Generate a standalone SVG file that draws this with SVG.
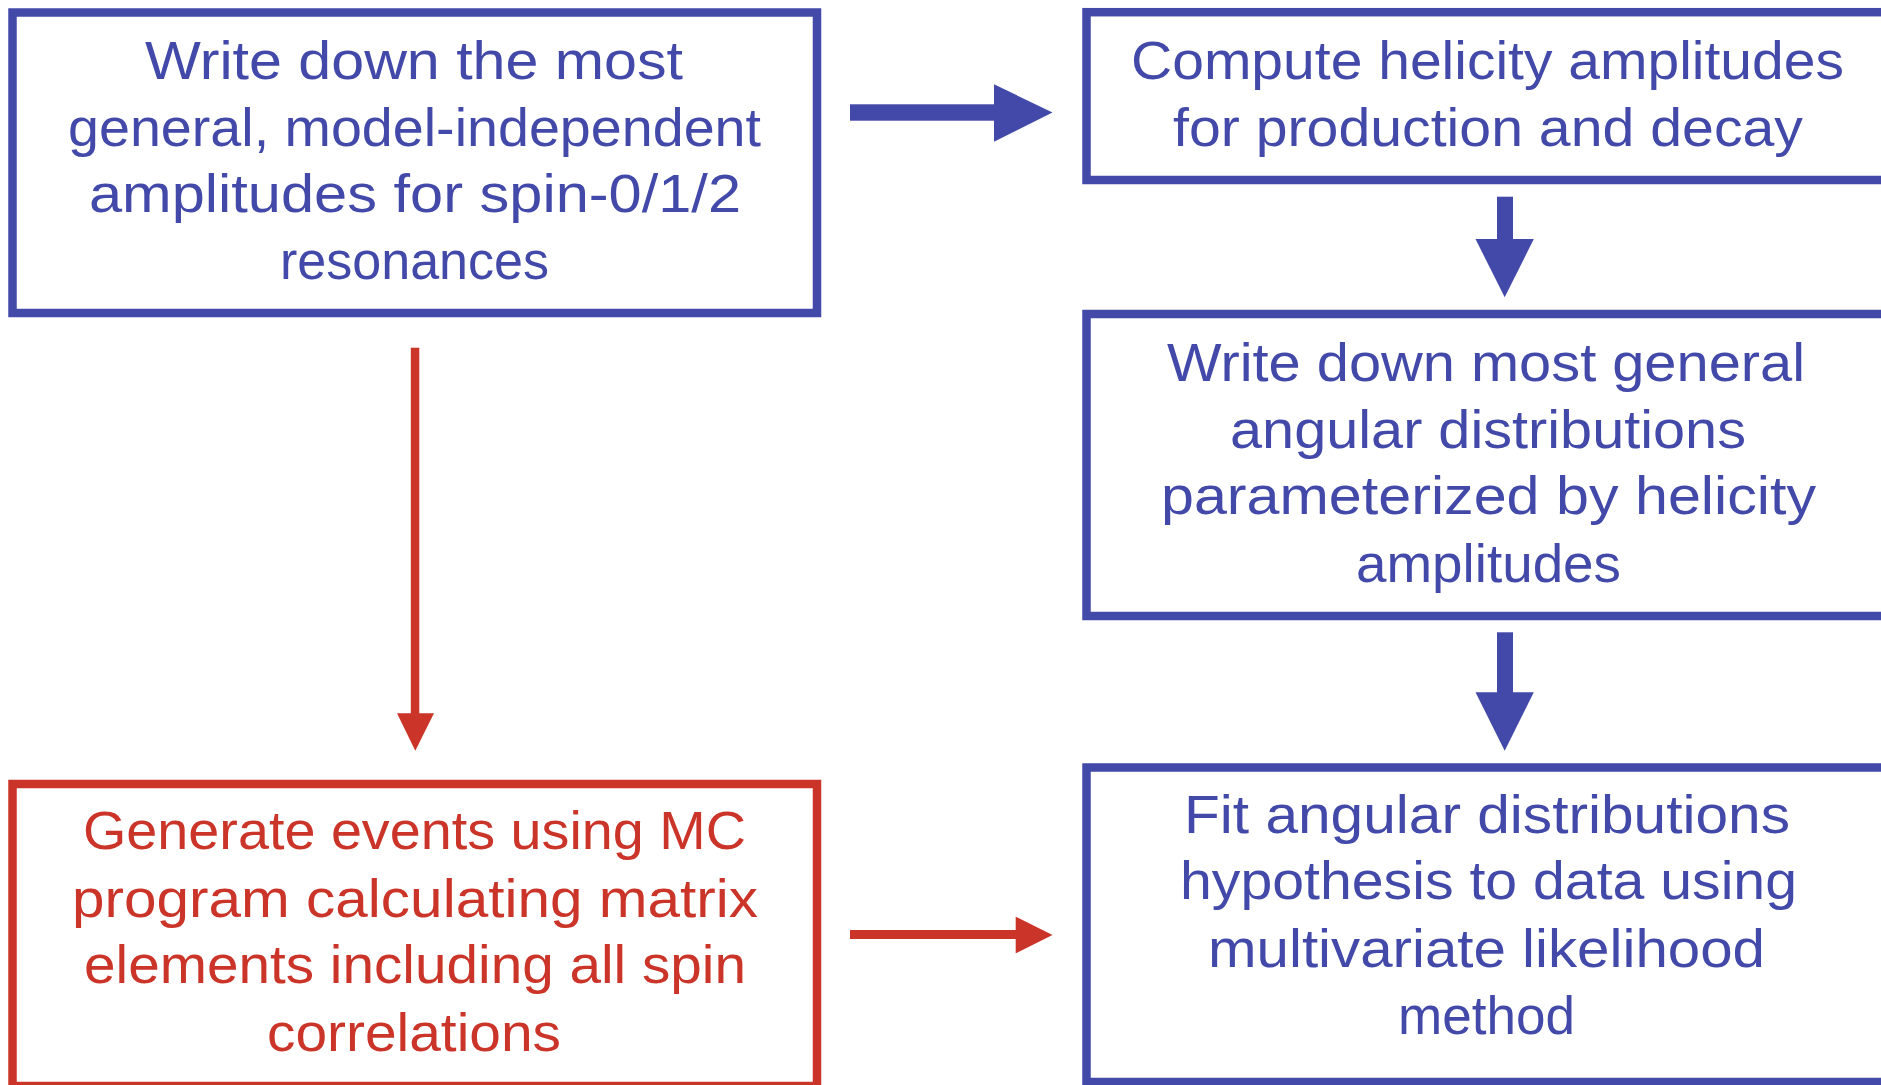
<svg xmlns="http://www.w3.org/2000/svg" width="1881" height="1085" viewBox="0 0 1881 1085">
<style>
  .box { fill: #ffffff; stroke-width: 8.5; }
  .blue { stroke: #4349A9; }
  .red { stroke: #CB3529; }
  .t { font-family: "Liberation Sans", Arial, sans-serif; font-size: 54px; }
  .tb { fill: #4349A9; }
  .tr { fill: #CB3529; }
  .bfill { fill: #4349A9; }
  .rfill { fill: #CB3529; }
</style>
<rect width="1881" height="1085" fill="#ffffff"/>

<g id="connectors">
  <g id="c1">
    <rect class="bfill" x="850" y="104.3" width="145" height="16.4"/>
    <polygon class="bfill" points="994,84.3 1052.5,112.5 994,141.7"/>
  </g>
  <g id="c2">
    <rect class="bfill" x="1497" y="196.7" width="16" height="43"/>
    <polygon class="bfill" points="1475.5,239 1533.8,239 1504.7,297.3"/>
  </g>
  <g id="c3">
    <rect class="bfill" x="1497" y="632.3" width="16" height="61"/>
    <polygon class="bfill" points="1475.5,692.3 1533.8,692.3 1504.7,750.7"/>
  </g>
  <g id="c4">
    <rect class="rfill" x="410.8" y="347.7" width="8.5" height="366.6"/>
    <polygon class="rfill" points="397,713.3 434,713.3 415.3,750.7"/>
  </g>
  <g id="c5">
    <rect class="rfill" x="850" y="930" width="166.7" height="9"/>
    <polygon class="rfill" points="1015.7,916.7 1052.5,935 1015.7,953.3"/>
  </g>
</g>

<g id="node-general-amplitudes">
  <rect class="box blue" x="12.5" y="12.5" width="804.5" height="300.5"/>
  <text class="t tb" x="145" y="79" textLength="538" lengthAdjust="spacingAndGlyphs">Write down the most</text>
  <text class="t tb" x="68" y="145.7" textLength="693" lengthAdjust="spacingAndGlyphs">general, model-independent</text>
  <text class="t tb" x="89" y="212.3" textLength="652" lengthAdjust="spacingAndGlyphs">amplitudes for spin-0/1/2</text>
  <text class="t tb" x="280" y="279" textLength="269" lengthAdjust="spacingAndGlyphs">resonances</text>
</g>

<g id="node-helicity">
  <rect class="box blue" x="1086.5" y="12.2" width="900" height="167.8"/>
  <text class="t tb" x="1131" y="79" textLength="713" lengthAdjust="spacingAndGlyphs">Compute helicity amplitudes</text>
  <text class="t tb" x="1173" y="145.7" textLength="630" lengthAdjust="spacingAndGlyphs">for production and decay</text>
</g>

<g id="node-angular">
  <rect class="box blue" x="1086.5" y="314" width="900" height="302"/>
  <text class="t tb" x="1167" y="381" textLength="638" lengthAdjust="spacingAndGlyphs">Write down most general</text>
  <text class="t tb" x="1230" y="447.5" textLength="516" lengthAdjust="spacingAndGlyphs">angular distributions</text>
  <text class="t tb" x="1161" y="514.3" textLength="655" lengthAdjust="spacingAndGlyphs">parameterized by helicity</text>
  <text class="t tb" x="1356" y="581.5" textLength="265" lengthAdjust="spacingAndGlyphs">amplitudes</text>
</g>

<g id="node-fit">
  <rect class="box blue" x="1086.5" y="767.5" width="900" height="314.5"/>
  <text class="t tb" x="1184" y="832.7" textLength="606" lengthAdjust="spacingAndGlyphs">Fit angular distributions</text>
  <text class="t tb" x="1180" y="899.3" textLength="617" lengthAdjust="spacingAndGlyphs">hypothesis to data using</text>
  <text class="t tb" x="1208" y="966.5" textLength="557" lengthAdjust="spacingAndGlyphs">multivariate likelihood</text>
  <text class="t tb" x="1398" y="1034" textLength="177" lengthAdjust="spacingAndGlyphs">method</text>
</g>

<g id="node-generate">
  <rect class="box red" x="12.5" y="784" width="804.5" height="302"/>
  <text class="t tr" x="83" y="849.3" textLength="663" lengthAdjust="spacingAndGlyphs">Generate events using MC</text>
  <text class="t tr" x="72" y="916.7" textLength="686" lengthAdjust="spacingAndGlyphs">program calculating matrix</text>
  <text class="t tr" x="84" y="983.3" textLength="662" lengthAdjust="spacingAndGlyphs">elements including all spin</text>
  <text class="t tr" x="267" y="1051" textLength="294" lengthAdjust="spacingAndGlyphs">correlations</text>
</g>
</svg>
